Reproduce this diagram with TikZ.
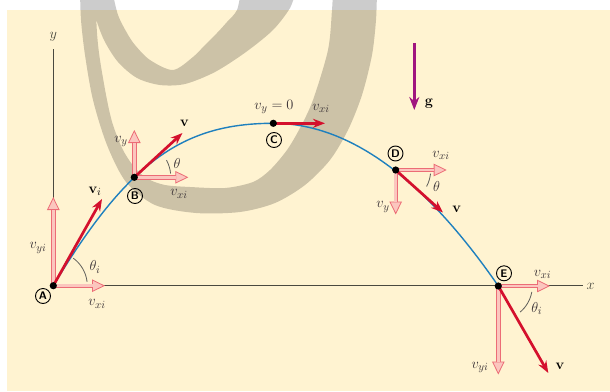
\documentclass[tikz,border=0pt]{standalone}
\usetikzlibrary{arrows.meta,calc}

\begin{document}
\begin{tikzpicture}[x=1pt, y=-1pt,
  lbl/.style={font=\fontsize{15}{17}\selectfont, text=LabelGray, inner sep=0pt},
  bold/.style={lbl, text=black},
  tag/.style={circle, draw=black, line width=.9pt, inner sep=0pt, minimum size=15pt, text=black, font=\sffamily\bfseries\fontsize{11}{11}\selectfont},
  axis/.style={draw=AxisGray, line width=.9pt},
  traj/.style={draw=PathBlue, line width=1.4pt},
  vec/.style={draw=VecRed, line width=2.7pt, -{Stealth[length=12pt,width=9pt]}},
  comp/.style={draw=CompEdge, line width=4.4pt, -{Triangle[length=13pt,width=12.5pt,line width=.8pt,fill=CompFill]},
    postaction={draw=CompFill, line width=2.8pt, -, shorten >=12.5pt}},
  arcline/.style={draw=ArcGray, line width=.8pt},
  dot/.style={fill=black}]
\definecolor{Cream}{HTML}{FFF3D1}\definecolor{PathBlue}{HTML}{1F80BE}\definecolor{VecRed}{HTML}{D4102D}
\definecolor{CompEdge}{HTML}{EC6C76}\definecolor{CompFill}{HTML}{FBC6BE}\definecolor{GPurple}{HTML}{A0157F}
\definecolor{AxisGray}{HTML}{4A493F}\definecolor{ArcGray}{HTML}{5F5F5A}\definecolor{LabelGray}{HTML}{3A3236}
\useasboundingbox (0,0) rectangle (610,391);
\clip (0,0) rectangle (610,391);
\fill[white] (0,0) rectangle (610,391); \fill[Cream] (7,10) rectangle (610,391);
% watermark swirl
\fill[black, opacity=.2]
  plot[smooth] coordinates {(80,-10) (81,20) (85,55) (93,100) (107,145) (126,182) (155,205) (196,213) (240,212) (275,203) (305,185) (330,160) (348,130) (362,95) (372,55) (376,20) (377,-10)}
  -- plot[smooth] coordinates {(333,-10) (332,10) (328,50) (313,100) (300,128) (287,150) (270,170) (253,182) (225,188) (190,187) (165,185) (148,179) (135,168) (123,150) (113,125) (107,100) (100,60) (97,33) (95,-10)} -- cycle
  plot[smooth] coordinates {(92,-10) (95,15) (104,40) (118,62) (137,78) (160,85) (185,84) (215,72) (246,52) (273,30) (290,8) (296,-10)}
  -- plot[smooth] coordinates {(241,-10) (237,10) (227,22) (217,33) (205,45) (193,57) (173,70) (150,60) (135,45) (127,33) (118,15) (112,-10)} -- cycle;
% points of the path
\coordinate (A) at (53.3,285.7); \coordinate (B) at (134.3,177.3); \coordinate (C) at (273.3,123.3);
\coordinate (D) at (395.7,170); \coordinate (E) at (498.3,286);
\coordinate (yend) at (53.3,49); \coordinate (xend) at (583,285.7);
\draw[axis] (A) -- (yend); \draw[axis] (A) -- (xend);
\node[lbl, text=AxisGray] (ylab) at (53.3,36.7) {$y$};
\node[lbl, text=AxisGray] (xlab) at (590.5,286) {$x$};
\draw[traj] (A) .. controls (128,161.4) and (183.3,123.3) .. (C) .. controls (348.4,123.3) and (423.4,177.3) .. (E);
% vector tips
\coordinate (Ay) at (53.3,197); \coordinate (Ax) at (105,285.7); \coordinate (Av) at (102,199);
\coordinate (By) at (134.3,130); \coordinate (Bx) at (188.3,177.3); \coordinate (Bv) at (182.5,133);
\coordinate (Cx) at (325,123.3);
\coordinate (Dx) at (446.7,170); \coordinate (Dy) at (395.7,214.5); \coordinate (Dv) at (443,212.5);
\coordinate (Ex) at (550,286); \coordinate (Ey) at (498.3,374.5); \coordinate (Ev) at (548.3,373);
\draw[comp] (A) -- (Ay); \draw[comp] (A) -- (Ax);
\draw[comp] (B) -- (By); \draw[comp] (B) -- (Bx);
\draw[comp] (D) -- (Dx); \draw[comp] (D) -- (Dy);
\draw[comp] (E) -- (Ex); \draw[comp] (E) -- (Ey);
\draw[vec] (A) -- (Av); \draw[vec] (B) -- (Bv); \draw[vec] (C) -- (Cx); \draw[vec] (D) -- (Dv); \draw[vec] (E) -- (Ev);
% angles
\draw[arcline] ($(A)+(-6.5:34)$) arc[start angle=-6.5, end angle=-54, radius=34];
\draw[arcline] ($(B)+(-6:36.5)$) arc[start angle=-6, end angle=-28, radius=36.5];
\draw[arcline] ($(D)+(6:35)$) arc[start angle=6, end angle=28, radius=35];
\draw[arcline] ($(E)+(10:34)$) arc[start angle=10, end angle=50, radius=34];
\foreach \p in {A,B,C,D,E} \fill[dot] (\p) circle[radius=3.6];
% gravity
\coordinate (g0) at (414.3,43.3); \coordinate (g1) at (414.3,110);
\draw[draw=GPurple, line width=3pt, -{Stealth[length=13pt,width=10pt]}] (g0) -- (g1);
\node[bold] (glab) at (429,104) {$\mathbf{g}$};
% labels
\node[tag] (tagA) at (43,296) {A};
\node[lbl] (vyiA) at (38,248) {$v_{yi}$};
\node[lbl] (vxiA) at (97,304) {$v_{xi}$};
\node[lbl] (thA) at (95,267) {$\theta_i$};
\node[bold] (viA) at (95,191.5) {$\mathbf{v}_i$};
\node[tag] (tagB) at (135,196) {B};
\node[lbl] (vyB) at (121,141.7) {$v_y$};
\node[lbl] (vxiB) at (179,194) {$v_{xi}$};
\node[lbl] (thB) at (177,163.3) {$\theta$};
\node[bold] (vB) at (184.5,123.5) {$\mathbf{v}$};
\node[tag] (tagC) at (274,140) {C};
\node[lbl] (vyC) at (274,106.7) {$v_y = 0$};
\node[lbl] (vxiC) at (321,108.3) {$v_{xi}$};
\node[tag] (tagD) at (395.5,153.5) {D};
\node[lbl] (vxiD) at (441,155.5) {$v_{xi}$};
\node[lbl] (vyD) at (383,207) {$v_y$};
\node[lbl] (thD) at (436.5,186.7) {$\theta$};
\node[bold] (vD) at (456.7,209.3) {$\mathbf{v}$};
\node[tag] (tagE) at (504,273.3) {E};
\node[lbl] (vxiE) at (542.5,274.5) {$v_{xi}$};
\node[lbl] (vyiE) at (480,367.5) {$v_{yi}$};
\node[lbl] (thE) at (536.7,308.3) {$\theta_i$};
\node[bold] (vE) at (560,366.7) {$\mathbf{v}$};
\end{tikzpicture}
\end{document}
